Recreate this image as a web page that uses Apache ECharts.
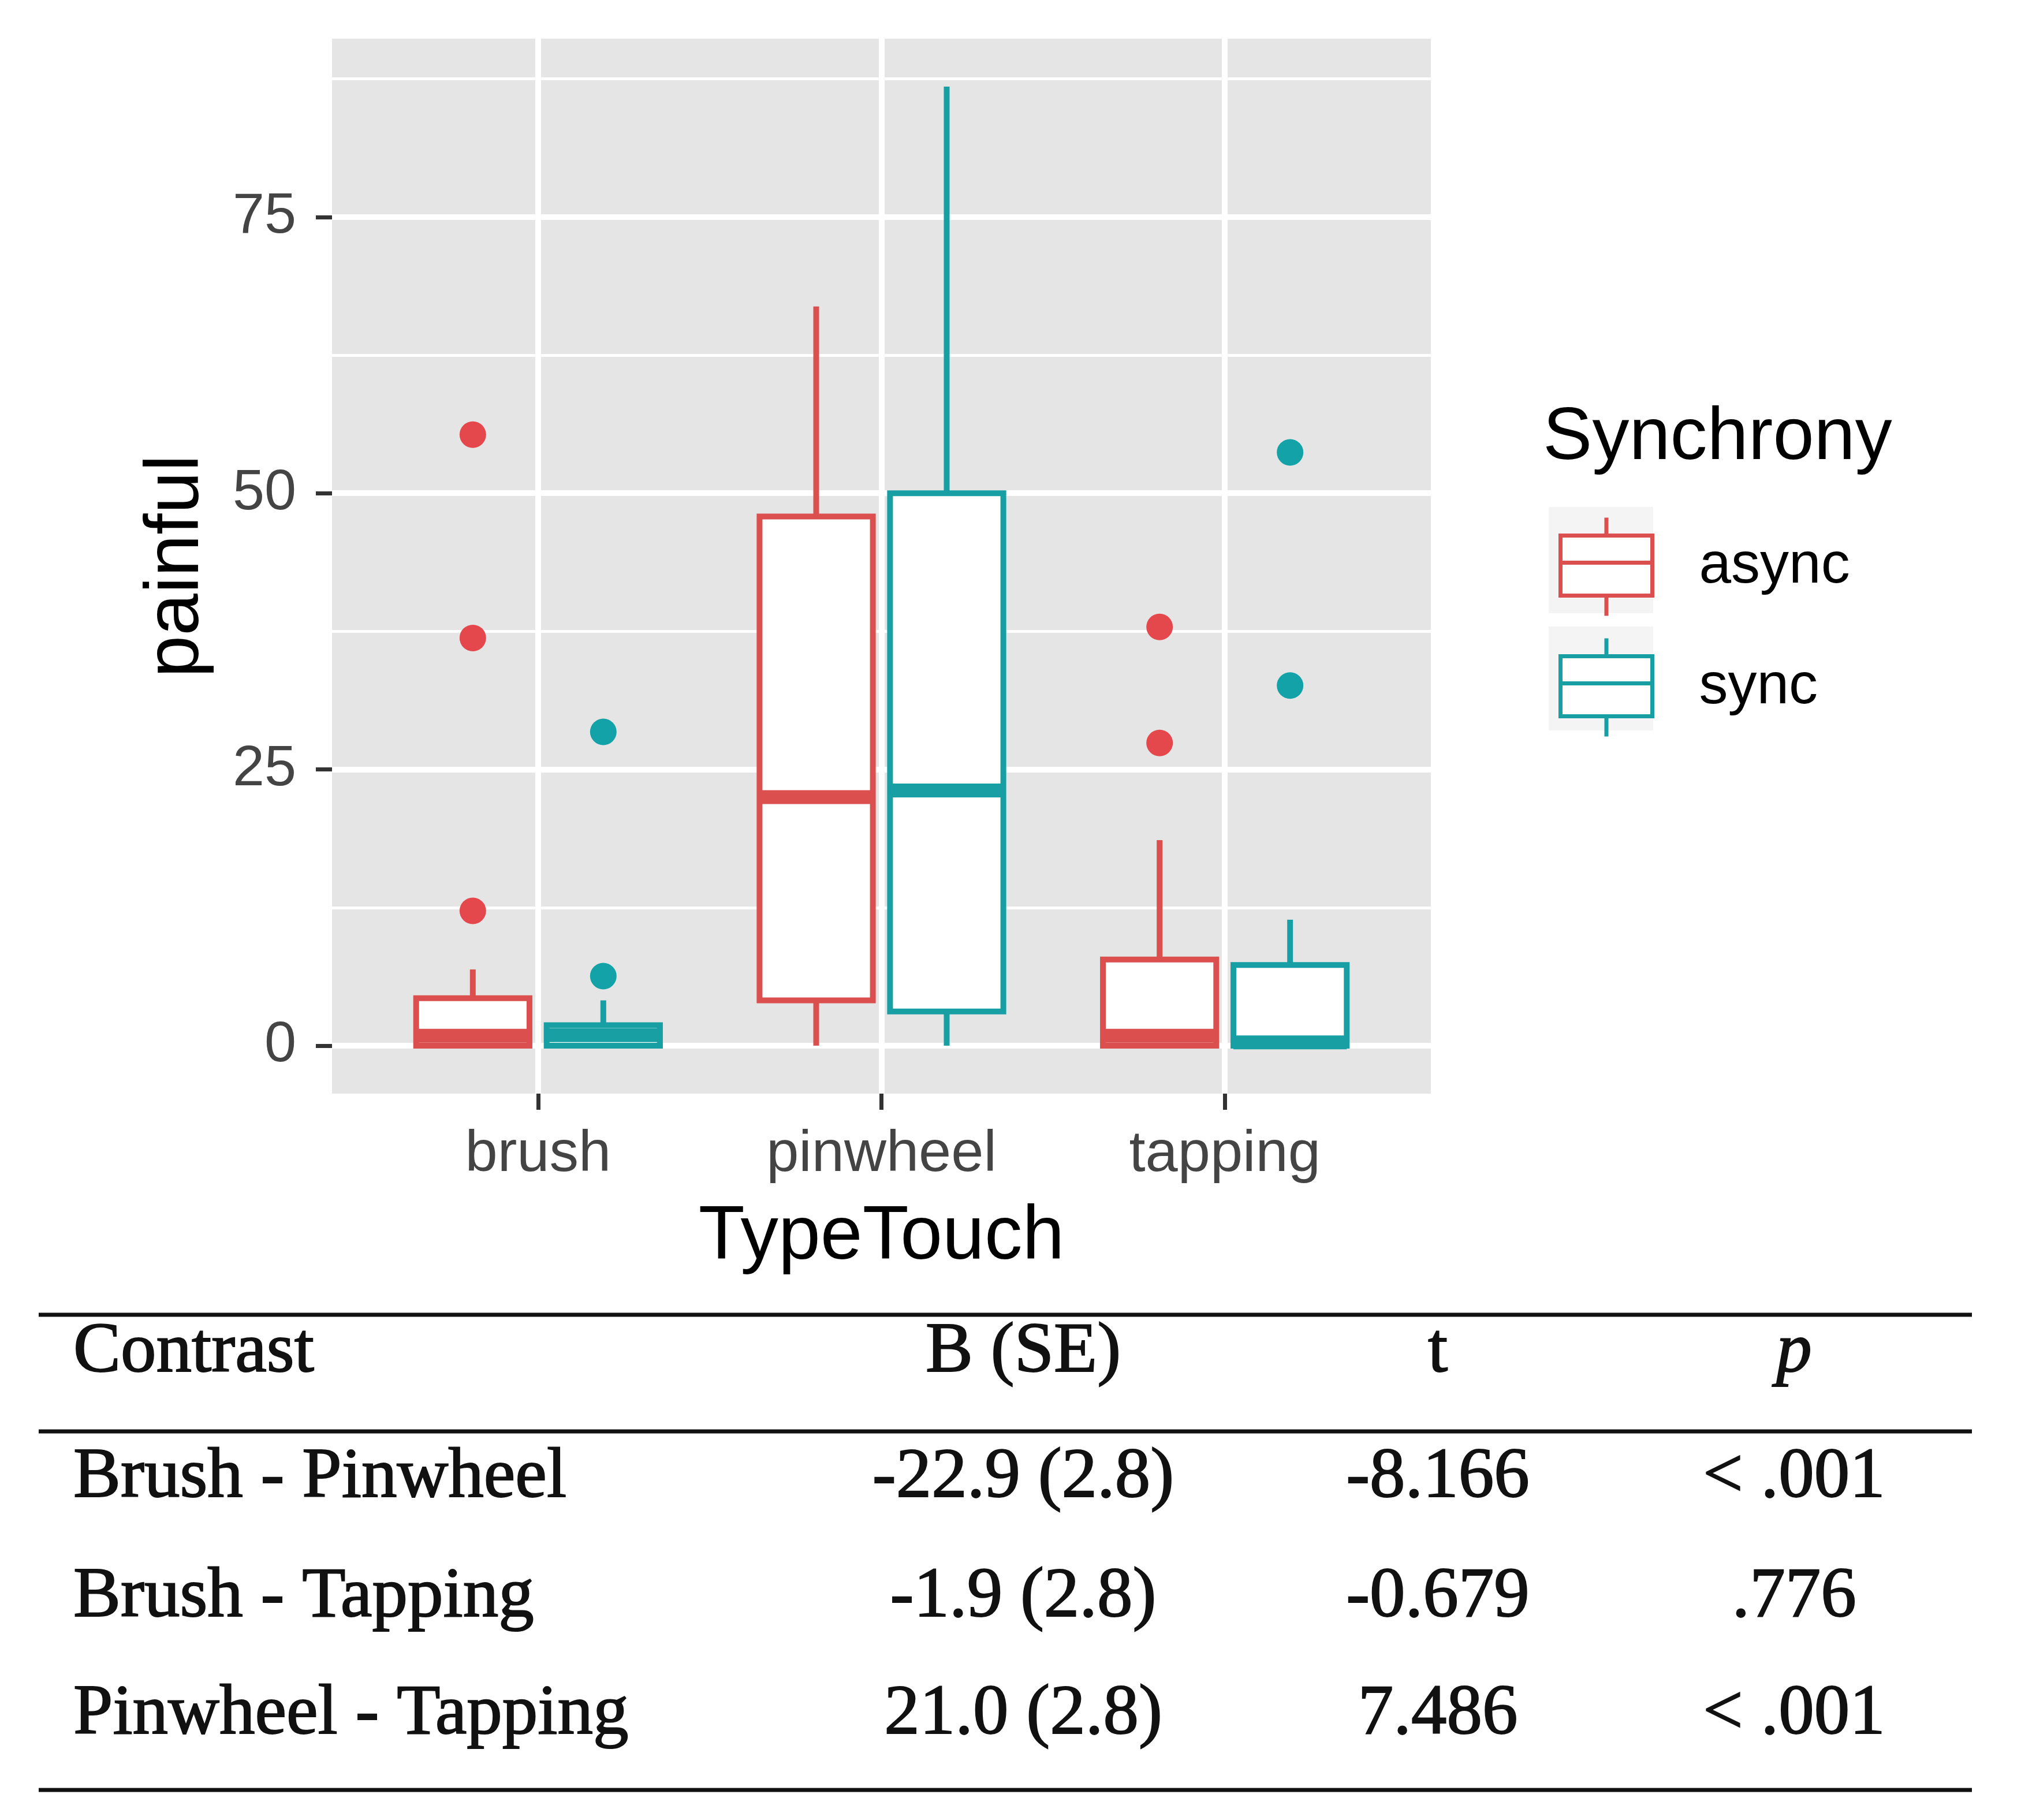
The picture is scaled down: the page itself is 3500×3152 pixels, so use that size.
<!DOCTYPE html>
<html>
<head>
<meta charset="utf-8">
<script src="https://cdn.jsdelivr.net/npm/echarts@6/dist/echarts.min.js"></script>
<style>
html,body{margin:0;padding:0;background:#ffffff;}
#chart{width:3500px;height:3152px;}
</style>
</head>
<body>
<div id="chart"></div>
<script>
// ---------------- data ----------------
const categories = ['brush', 'pinwheel', 'tapping'];
const groupNames = ['async', 'sync'];
// each row: [lower whisker, Q1, median, Q3, upper whisker] per category
const asyncBoxes = [
  [0, 0, 0.9, 4.3, 6.9],
  [0, 4.1, 22.5, 47.9, 66.9],
  [0, 0, 0.9, 7.8, 18.6]
];
const syncBoxes = [
  [0, 0, 0.95, 1.85, 4.1],
  [0, 3.1, 23.1, 50.0, 86.8],
  [0, 0, 0.3, 7.3, 11.4]
];
// outliers: [category index, value]
const asyncOutliers = [[0, 55.3], [0, 36.9], [0, 12.2], [2, 37.9], [2, 27.4]];
const syncOutliers = [[0, 28.4], [0, 6.3], [2, 53.7], [2, 32.6]];
const yTickValues = [0, 25, 50, 75];
const yMinorValues = [12.5, 37.5, 62.5, 87.5];
// table
const tableHeader = ['Contrast', 'B (SE)', 't', 'p'];
const contrasts = ['Brush - Pinwheel', 'Brush - Tapping', 'Pinwheel - Tapping'];
const estimates = ['-22.9 (2.8)', '-1.9 (2.8)', '21.0 (2.8)'];
const tValues = ['-8.166', '-0.679', '7.486'];
const pValues = ['< .001', '.776', '< .001'];

// ---------------- styles ----------------
const RED = '#DB4F4F';
const TEAL = '#179FA4';
const RED_DOT = '#E4474C';
const TEAL_DOT = '#13A2A8';
const PANEL = '#E5E5E5';
const LW = 10;
const MEDIAN_LW = 24;
const BOX_W = 0.33;
const DODGE = 0.19;
const SANS = '"Liberation Sans", Arial, Helvetica, sans-serif';
const SERIF = '"Liberation Serif", "Times New Roman", serif';

// y range with ggplot-like 5% expansion
const allVals = [].concat(...asyncBoxes, ...syncBoxes, asyncOutliers.map(d => d[1]), syncOutliers.map(d => d[1]));
const yMaxData = Math.max(...allVals);
const yMinData = Math.min(...allVals);
const ySpan = yMaxData - yMinData;
const yMin = yMinData - 0.05 * ySpan;
const yMax = yMaxData + 0.05 * ySpan;

function boxData(boxes) {
  return boxes.map((b, i) => [i + 1].concat(b));
}

function makeRender(offset, color) {
  return function (params, api) {
    const x = api.value(0) + offset;
    const lo = api.coord([x, api.value(1)]);
    const q1 = api.coord([x, api.value(2)]);
    const med = api.coord([x, api.value(3)]);
    const q3 = api.coord([x, api.value(4)]);
    const hi = api.coord([x, api.value(5)]);
    const w = api.size([BOX_W, 0])[0];
    const cx = q1[0];
    return {
      type: 'group',
      children: [
        { type: 'line', shape: { x1: cx, y1: hi[1], x2: cx, y2: q3[1] }, style: { stroke: color, lineWidth: LW } },
        { type: 'line', shape: { x1: cx, y1: q1[1], x2: cx, y2: lo[1] }, style: { stroke: color, lineWidth: LW } },
        { type: 'rect', shape: { x: cx - w / 2, y: q3[1], width: w, height: q1[1] - q3[1] }, style: { fill: '#ffffff', stroke: color, lineWidth: LW } },
        { type: 'line', shape: { x1: cx - w / 2, y1: med[1], x2: cx + w / 2, y2: med[1] }, style: { stroke: color, lineWidth: MEDIAN_LW } }
      ]
    };
  };
}

// gridlines (drawn through the axes via markLine)
const gridLines = []
  .concat(yMinorValues.map(v => ({ yAxis: v, lineStyle: { width: 5 } })))
  .concat(yTickValues.map(v => ({ yAxis: v, lineStyle: { width: 10 } })))
  .concat(categories.map((c, i) => ({ xAxis: i + 1, lineStyle: { width: 10 } })));

// table graphics
const tableTexts = [];
const colX = [127, 1772, 2490, 3107];
const rowY = [2343, 2560, 2767, 2970];
function tText(txt, x, y, align, italic) {
  return {
    type: 'text', x: x, y: y, silent: true,
    style: {
      text: txt, fill: '#111111', stroke: '#111111', lineWidth: 2,
      font: (italic ? 'italic ' : '') + '123px ' + SERIF,
      align: align, verticalAlign: 'middle',
      textAlign: align, textVerticalAlign: 'middle'
    }
  };
}
tableTexts.push(tText(tableHeader[0], colX[0], rowY[0], 'left', false));
tableTexts.push(tText(tableHeader[1], colX[1], rowY[0], 'center', false));
tableTexts.push(tText(tableHeader[2], colX[2], rowY[0], 'center', false));
tableTexts.push(tText(tableHeader[3], colX[3], rowY[0], 'center', true));
for (let i = 0; i < contrasts.length; i++) {
  tableTexts.push(tText(contrasts[i], colX[0], rowY[i + 1], 'left', false));
  tableTexts.push(tText(estimates[i], colX[1], rowY[i + 1], 'center', false));
  tableTexts.push(tText(tValues[i], colX[2], rowY[i + 1], 'center', false));
  tableTexts.push(tText(pValues[i], colX[3], rowY[i + 1], 'center', false));
}
function rule(y) {
  return { type: 'line', silent: true, shape: { x1: 67, y1: y, x2: 3415, y2: y }, style: { stroke: '#111111', lineWidth: 7 } };
}

const chart = echarts.init(document.getElementById('chart'), null, { renderer: 'canvas' });
const option = {
  animation: false,
  backgroundColor: '#ffffff',
  grid: {
    left: 575, right: 1022, top: 67, bottom: 1258,
    show: true, backgroundColor: PANEL, borderWidth: 0, containLabel: false
  },
  xAxis: {
    type: 'value', min: 0.4, max: 3.6,
    axisLine: { show: false, onZero: false },
    axisTick: { show: true, customValues: [1, 2, 3], length: 28, lineStyle: { color: '#333333', width: 7 } },
    axisLabel: {
      customValues: [1, 2, 3],
      formatter: function (v) { return categories[Math.round(v) - 1]; },
      fontSize: 101, fontFamily: SANS, color: '#444444', margin: 56
    },
    splitLine: { show: false },
    name: 'TypeTouch', nameLocation: 'middle', nameGap: 184,
    nameTextStyle: { fontSize: 131, fontFamily: SANS, color: '#000000' }
  },
  yAxis: {
    type: 'value', min: yMin, max: yMax,
    axisLine: { show: false, onZero: false },
    axisTick: { show: true, customValues: yTickValues, length: 28, lineStyle: { color: '#333333', width: 7 } },
    axisLabel: {
      customValues: yTickValues,
      fontSize: 99, fontFamily: SANS, color: '#444444', margin: 62
    },
    splitLine: { show: false },
    name: 'painful', nameLocation: 'middle', nameGap: 203,
    nameTextStyle: { fontSize: 131, fontFamily: SANS, color: '#000000' }
  },
  legend: {
    orient: 'vertical', left: 2694, top: 888,
    itemWidth: 159, itemHeight: 170, itemGap: 32,
    selectedMode: false,
    icon: 'path://M0,31L159,31L159,135L0,135Z M0,78L159,78 M79.5,0L79.5,31 M79.5,135L79.5,170',
    textStyle: { fontSize: 100, fontFamily: SANS, color: '#000000', padding: [0, 0, 0, 76] },
    data: [
      { name: groupNames[0], itemStyle: { color: '#ffffff', borderColor: RED, borderWidth: 7 } },
      { name: groupNames[1], itemStyle: { color: '#ffffff', borderColor: TEAL, borderWidth: 7 } }
    ]
  },
  graphic: [
    { type: 'rect', z: 0, silent: true, shape: { x: 2682, y: 878, width: 181, height: 184 }, style: { fill: '#F4F4F4' } },
    { type: 'rect', z: 0, silent: true, shape: { x: 2682, y: 1085, width: 181, height: 180 }, style: { fill: '#F4F4F4' } },
    {
      type: 'text', x: 2672, y: 760, silent: true,
      style: { text: 'Synchrony', fill: '#000000', font: '128px ' + SANS, align: 'left', verticalAlign: 'middle', textAlign: 'left', textVerticalAlign: 'middle' }
    },
    rule(2277), rule(2479), rule(3100)
  ].concat(tableTexts),
  series: [
    {
      type: 'scatter', name: 'gridlines', data: [], silent: true,
      markLine: {
        z: 1, silent: true, symbol: ['none', 'none'], label: { show: false },
        lineStyle: { color: '#ffffff', type: 'solid' },
        emphasis: { disabled: true },
        data: gridLines
      }
    },
    {
      type: 'custom', name: groupNames[0], z: 2,
      renderItem: makeRender(-DODGE, RED),
      encode: { x: 0, y: [1, 2, 3, 4, 5] },
      itemStyle: { color: RED },
      data: boxData(asyncBoxes)
    },
    {
      type: 'custom', name: groupNames[1], z: 2,
      renderItem: makeRender(DODGE, TEAL),
      encode: { x: 0, y: [1, 2, 3, 4, 5] },
      itemStyle: { color: TEAL },
      data: boxData(syncBoxes)
    },
    {
      type: 'scatter', name: 'async outliers', z: 3, silent: true,
      symbol: 'circle', symbolSize: 46,
      itemStyle: { color: RED_DOT, opacity: 1 },
      data: asyncOutliers.map(d => [d[0] + 1 - DODGE, d[1]])
    },
    {
      type: 'scatter', name: 'sync outliers', z: 3, silent: true,
      symbol: 'circle', symbolSize: 46,
      itemStyle: { color: TEAL_DOT, opacity: 1 },
      data: syncOutliers.map(d => [d[0] + 1 + DODGE, d[1]])
    }
  ]
};
chart.setOption(option);
</script>
</body>
</html>
